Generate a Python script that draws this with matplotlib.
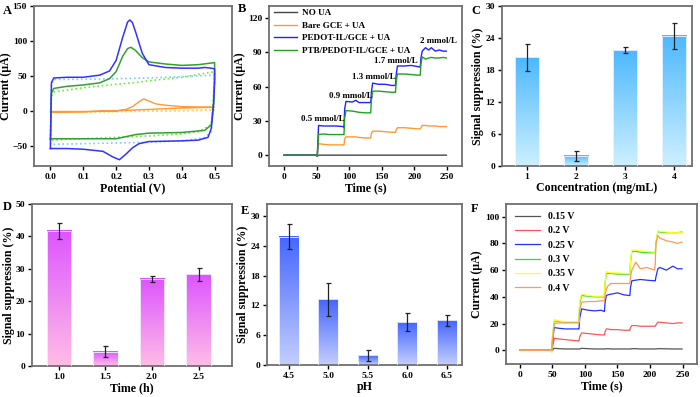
import numpy as np
import matplotlib
matplotlib.use('Agg')
import matplotlib.pyplot as plt
from matplotlib.colors import LinearSegmentedColormap

plt.rcParams['font.family'] = ['Liberation Serif', 'DejaVu Serif']
plt.rcParams['font.weight'] = 'bold'
plt.rcParams['axes.labelweight'] = 'bold'

# -------------------------------
# A: CV curves (potential V, current uA), forward then reverse scan
# -------------------------------
E_blue = [0.0, 0.003, 0.01, 0.05, 0.10, 0.15, 0.18, 0.20, 0.22, 0.235, 0.242, 0.25, 0.26, 0.28, 0.30, 0.35, 0.40,
          0.45, 0.47, 0.49, 0.50, 0.50, 0.497, 0.49, 0.48, 0.45, 0.40, 0.30, 0.27, 0.25, 0.23, 0.21, 0.19, 0.16,
          0.10, 0.05, 0.0, 0.0]
I_blue = [-54, 40, 47, 48, 48, 51, 57, 72, 105, 127, 130, 126, 112, 82, 66, 62, 61, 61, 62, 61, 60, 40, 10, -25,
          -38, -42, -43, -44, -47, -53, -62, -70, -66, -58, -55, -54, -54, -54]

E_green = [0.0, 0.003, 0.01, 0.05, 0.10, 0.15, 0.18, 0.20, 0.22, 0.235, 0.245, 0.26, 0.28, 0.30, 0.35, 0.40, 0.45,
           0.50, 0.50, 0.497, 0.49, 0.47, 0.40, 0.30, 0.26, 0.23, 0.20, 0.15, 0.10, 0.05, 0.0, 0.0]
I_green = [-40, 25, 32, 35, 37, 40, 46, 56, 78, 89, 91, 86, 76, 70, 67, 65, 66, 69, 50, 10, -20, -28, -31, -32,
           -34, -37, -40, -40, -40, -40, -40, -40]

E_orange = [0.0, 0.05, 0.10, 0.20, 0.23, 0.25, 0.27, 0.284, 0.30, 0.32, 0.35, 0.40, 0.45, 0.50, 0.50, 0.45, 0.40,
            0.30, 0.25, 0.20, 0.10, 0.0]
I_orange = [-1, -1, -1, 0, 2, 6, 13, 17, 14, 10, 8, 6, 5.5, 5, 5, 4.5, 4, 2, 1, 0, -1.5, -2]

E_blue_d = [0.0, 0.003, 0.01, 0.10, 0.20, 0.30, 0.40, 0.50, 0.50, 0.495, 0.49, 0.47, 0.45, 0.40, 0.30, 0.20, 0.10,
            0.0, 0.0]
I_blue_d = [-48, 38, 45, 45, 46, 47, 49, 51, 40, 10, -30, -38, -40, -43, -45, -46, -47, -48, -48]

E_green_d = [0.0, 0.003, 0.01, 0.10, 0.20, 0.25, 0.30, 0.40, 0.50, 0.50, 0.495, 0.49, 0.45, 0.40, 0.30, 0.20,
             0.10, 0.0, 0.0]
I_green_d = [-42, 20, 27, 33, 38, 40, 43, 48, 56, 45, 10, -20, -30, -33, -36, -38, -40, -42, -42]

E_yellow_d = [0.0, 0.10, 0.20, 0.30, 0.40, 0.50, 0.50, 0.40, 0.30, 0.20, 0.10, 0.0]
I_yellow_d = [-2, -1.5, -1, 0, 0.5, 1, 1, 0, -0.5, -1, -1.5, -2]

# -------------------------------
# B: amperometric i-t
# -------------------------------
t_B = [0, 50, 51, 53, 60, 70, 80, 91, 92, 93, 95, 105, 110, 115, 125, 133, 134, 136, 145, 155, 165, 171, 172,
       174, 185, 195, 205, 209, 210, 212, 217, 222, 226, 232, 238, 244, 249]
I_B_no = [0, 0, -1, 0, 0, 0, 0, 0, 0, 0, 0, 0, 0, 0, 0, 0, 0, 0, 0, 0, 0, 0, 0, 0, 0, 0, 0, 0, 0, 0, 0, 0, 0, 0,
          0, 0, 0]
I_B_bare = [0, 0, -1, 10, 9.5, 9, 9, 9, 9, 14, 16, 16, 16, 15.5, 15, 15, 19, 21, 21, 20.5, 20, 20, 22, 24, 24,
            23.5, 23, 23, 24, 26, 26, 25.5, 25.5, 25.5, 25, 25, 25]
I_B_pedot = [0, 0, -1, 26, 25.5, 25.5, 25.5, 25, 24, 40, 47, 46.5, 48, 46, 46, 46, 55, 63, 62, 62, 61, 61, 70,
             78, 78, 78.5, 77.5, 77, 85, 91, 94, 92, 94, 91, 92, 91, 91]
I_B_ptb = [0, 0, -1, 18, 18.5, 18, 18, 18, 18, 32, 39, 38.5, 38, 37.5, 37, 37, 48, 56, 56, 55.5, 55, 55, 64, 71,
           71, 70.5, 70, 70, 80, 86, 84, 85, 85.5, 85, 85, 85.5, 85]
B_labels = ['0.5 mmol/L', '0.9 mmol/L', '1.3 mmol/L', '1.7 mmol/L', '2 mmol/L']
B_label_t = [60, 103, 137, 171, 237]
B_label_I = [32, 52, 68.5, 82, 100]

# -------------------------------
# C, D, E: signal suppression bars
# -------------------------------
conc = [1, 2, 3, 4]
supp_conc = [20.4, 1.9, 21.7, 24.4]
err_conc = [2.5, 0.95, 0.55, 2.5]

time_h = [1.0, 1.5, 2.0, 2.5]
supp_time = [41.7, 4.4, 26.9, 28.3]
err_time = [2.4, 1.7, 1.0, 2.1]

ph = [4.5, 5.0, 5.5, 6.0, 6.5]
supp_ph = [25.8, 13.2, 1.95, 8.6, 9.0]
err_ph = [2.5, 3.3, 1.15, 1.85, 1.15]

# -------------------------------
# F: i-t at different potentials
# -------------------------------
t_F = [0, 48, 49, 50, 53, 60, 70, 80, 90, 91, 92, 95, 105, 115, 125, 130, 131, 133, 135, 140, 150, 160, 168,
       169, 170, 172, 178, 185, 195, 207, 208, 209, 212, 215, 225, 235, 242, 249]
I_F_015 = [0, 0, 0, 0, 1.5, 1.2, 1, 1, 1, 1, 1, 1.5, 1.2, 1, 1, 1, 1, 1.2, 1.2, 1, 1, 1, 1, 1, 1, 1.2, 1.2, 1,
           1, 1, 1, 1, 1.2, 1.2, 1.1, 1, 1, 1]
I_F_02 = [0, 0, 0, 1, 9, 8.5, 8, 7.5, 7, 7, 10, 13, 12.5, 12, 11.5, 11.5, 14, 16, 16, 15.5, 15.5, 15, 15, 15,
          17, 18.5, 18.5, 18, 18, 18, 18, 19, 21, 21, 20.5, 20, 20.5, 20.5]
I_F_025 = [0, 0, 0, 5, 17, 16.5, 16, 16, 16, 16, 24, 31, 30, 29.5, 30, 29, 36, 41, 41.5, 42, 43, 41.5, 41, 41,
           47, 52, 52.5, 53, 52.5, 52, 52, 55, 61, 62, 60, 63, 61, 61]
I_F_03 = [0, 0, -1.5, 8, 22, 21.5, 21, 21, 21, 21, 35, 41, 40.5, 40, 40, 40, 50, 58, 57.5, 57.5, 57, 57, 57, 57,
          66, 74, 74, 73.5, 73, 73, 73, 80, 89, 88.5, 88, 88, 88, 88.5]
I_F_035 = [0, 0, -1.5, 9, 23, 22, 21.5, 21.5, 21.5, 21.5, 37, 42, 41, 40.5, 40.5, 40.5, 51, 59, 58.5, 58, 58,
           57.5, 57.5, 57.5, 67, 75, 75, 74.5, 74, 73.5, 73.5, 81, 89.5, 89, 88.5, 88, 88, 88]
I_F_04 = [0, 0, 0, 6, 20, 20.5, 20.5, 20.5, 20.5, 20.5, 30, 36, 36.5, 36.5, 37, 37, 42, 46, 48, 50, 50, 50, 50,
          50, 55, 60, 66, 61, 62, 60, 65, 80, 86, 84, 82, 81, 80, 81]

# -------------------------------
# figure
# -------------------------------
W, H = 700, 397
fig = plt.figure(figsize=(W / 100, H / 100), dpi=100)


def box(x0, y0, x1, y1):
    return fig.add_axes([x0 / W, 1 - y1 / H, (x1 - x0) / W, (y1 - y0) / H])


SPINE = '#707070'
TICK_FS = 6.8
LAB_FS = 8.6


def style(ax):
    for s in ax.spines.values():
        s.set_color(SPINE)
        s.set_linewidth(1.3)
    ax.tick_params(direction='out', length=3, width=1, labelsize=TICK_FS, pad=2)
    for lab in ax.get_xticklabels() + ax.get_yticklabels():
        lab.set_fontweight('bold')


def letter(x, y, s):
    fig.text(x / W, 1 - y / H, s, fontsize=9, fontweight='bold', va='top', ha='left')


def grad_bars(ax, xs, hs, errs, w, c_bot, c_top):
    cmap = LinearSegmentedColormap.from_list('g', [c_bot, c_top])
    g = np.linspace(0, 1, 128).reshape(-1, 1)
    for xi, hi, ei in zip(xs, hs, errs):
        ax.imshow(g, extent=[xi - w / 2, xi + w / 2, 0, hi], origin='lower', aspect='auto',
                  cmap=cmap, zorder=2)
        ax.bar(xi, hi, w, color='none', edgecolor='#F4F4FF', linewidth=0.6, zorder=3)
    ax.errorbar(xs, hs, yerr=errs, fmt='none', ecolor='#222222', elinewidth=0.9, capsize=1.8,
                capthick=0.9, zorder=4)


# A
axA = box(34, 6, 232, 166)
axA.plot(E_blue_d, I_blue_d, ':', color='#77CCFF', lw=1.2)
axA.plot(E_green_d, I_green_d, ':', color='#66EE33', lw=1.2)
axA.plot(E_yellow_d, I_yellow_d, ':', color='#FFDD55', lw=1.2)
axA.plot(E_orange, I_orange, '-', color='#FF9933', lw=1.0)
axA.plot(E_green, I_green, '-', color='#33A033', lw=1.1)
axA.plot(E_blue, I_blue, '-', color='#3333FF', lw=1.1)
axA.set_xlim(-0.05, 0.553)
axA.set_ylim(-79, 150)
axA.set_xticks([0.0, 0.1, 0.2, 0.3, 0.4, 0.5])
axA.set_yticks([-50, 0, 50, 100, 150])
axA.set_xlabel('Potential (V)', fontsize=LAB_FS, labelpad=1)
axA.set_ylabel('Current (\u03bcA)', fontsize=LAB_FS, labelpad=0)
style(axA)
letter(3, 5, 'A')

# B
axB = box(269, 6, 462, 166)
axB.plot(t_B, I_B_no, color='#444444', lw=1.0, label='NO UA')
axB.plot(t_B, I_B_bare, color='#FF9933', lw=1.0, label='Bare GCE + UA')
axB.plot(t_B, I_B_pedot, color='#2222FF', lw=1.0, label='PEDOT-IL/GCE + UA')
axB.plot(t_B, I_B_ptb, color='#22A022', lw=1.0, label='PTB/PEDOT-IL/GCE + UA')
for s, x, y in zip(B_labels, B_label_t, B_label_I):
    axB.text(x, y, s, fontsize=6.4, fontweight='bold', ha='center', va='center')
axB.set_xlim(-23, 273)
axB.set_ylim(-9.5, 130.5)
axB.set_xticks([0, 50, 100, 150, 200, 250])
axB.set_yticks([0, 30, 60, 90, 120])
axB.set_xlabel('Time (s)', fontsize=LAB_FS, labelpad=1)
axB.set_ylabel('Current (\u03bcA)', fontsize=LAB_FS, labelpad=1)
axB.legend(loc='upper left', bbox_to_anchor=(0.0, 1.01), frameon=False,
           handlelength=2.6, labelspacing=0.45, borderaxespad=0.1, handletextpad=0.5,
           prop={'weight': 'bold', 'size': 6.6})
style(axB)
letter(238, 3, 'B')

# C
axC = box(502, 6, 692, 166)
grad_bars(axC, conc, supp_conc, err_conc, 0.49, '#CDF0FF', '#4DB8FF')
axC.set_xlim(0.5, 4.37)
axC.set_ylim(0, 30)
axC.set_xticks(conc)
axC.set_yticks([0, 6, 12, 18, 24, 30])
axC.set_xlabel('Concentration (mg/mL)', fontsize=LAB_FS, labelpad=1)
axC.set_ylabel('Signal suppression (%)', fontsize=LAB_FS, labelpad=1)
style(axC)
letter(471, 5, 'C')

# D
axD = box(32, 204, 232, 366)
grad_bars(axD, time_h, supp_time, err_time, 0.26, '#FFBDE6', '#DD55FF')
axD.set_xlim(0.71, 2.86)
axD.set_ylim(0, 50)
axD.set_xticks(time_h)
axD.set_xticklabels(['1.0', '1.5', '2.0', '2.5'])
axD.set_yticks([0, 10, 20, 30, 40, 50])
axD.set_xlabel('Time (h)', fontsize=LAB_FS, labelpad=1)
axD.set_ylabel('Signal suppression (%)', fontsize=LAB_FS, labelpad=0)
style(axD)
letter(3, 201, 'D')

# E
axE = box(267, 204, 462, 365)
grad_bars(axE, ph, supp_ph, err_ph, 0.25, '#C4CEFF', '#4466FF')
axE.set_xlim(4.227, 6.69)
axE.set_ylim(0, 32.4)
axE.set_xticks(ph)
axE.set_xticklabels(['4.5', '5.0', '5.5', '6.0', '6.5'])
axE.set_yticks([0, 6, 12, 18, 24, 30])
axE.set_xlabel('pH', fontsize=LAB_FS, labelpad=1)
axE.set_ylabel('Signal suppression (%)', fontsize=LAB_FS, labelpad=1)
style(axE)
letter(241, 205, 'E')

# F
axF = box(506, 204, 697, 364)
axF.plot(t_F, I_F_015, color='#555555', lw=0.9, label='0.15 V')
axF.plot(t_F, I_F_02, color='#FF5555', lw=0.9, label='0.2 V')
axF.plot(t_F, I_F_025, color='#2233FF', lw=0.9, label='0.25 V')
axF.plot(t_F, I_F_03, color='#33DD22', lw=0.9, label='0.3 V')
axF.plot(t_F, I_F_035, color='#FFFF22', lw=0.9, label='0.35 V')
axF.plot(t_F, I_F_04, color='#FF9955', lw=0.9, label='0.4 V')
axF.set_xlim(-21, 272)
axF.set_ylim(-10.25, 109.5)
axF.set_xticks([0, 50, 100, 150, 200, 250])
axF.set_yticks([0, 20, 40, 60, 80, 100])
axF.set_xlabel('Time (s)', fontsize=LAB_FS, labelpad=1)
axF.set_ylabel('Current (\u03bcA)', fontsize=LAB_FS, labelpad=1)
axF.legend(loc='upper left', bbox_to_anchor=(0.02, 0.98), frameon=False,
           handlelength=2.6, labelspacing=0.55, borderaxespad=0.1, handletextpad=0.8,
           prop={'weight': 'bold', 'size': 7})
style(axF)
letter(471, 203, 'F')

fig.savefig('out.png', dpi=100)
